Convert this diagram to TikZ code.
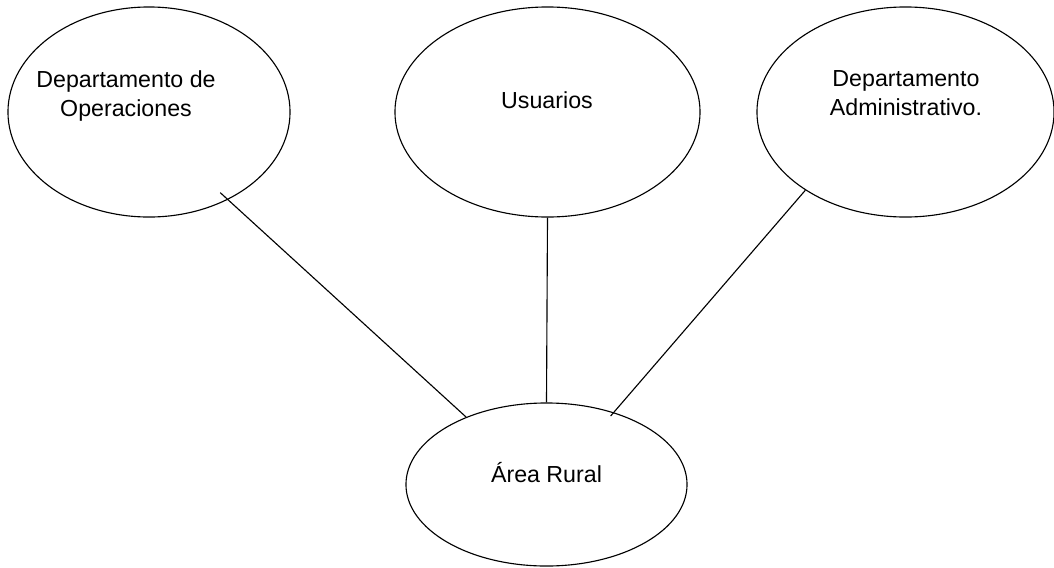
\documentclass[tikz,border=0pt]{standalone}
\usepackage{fontspec}
\setmainfont{Liberation Sans}
\usetikzlibrary{shapes.geometric}
\begin{document}
\begin{tikzpicture}[x=0.025cm,y=-0.025cm,
                    elipse/.style={draw,ellipse,line width=0.8pt,inner sep=0pt},
                    texto/.style={inner sep=0pt,align=center,font=\fontsize{16.5}{20.6}\selectfont},
                    enlace/.style={line width=0.8pt}]
                    \useasboundingbox (0,0) rectangle (1054,567);

                    \node [elipse,minimum width=7.05cm,minimum height=5.25cm]  (DO) at (149,112) {};
                    \node [elipse,minimum width=7.625cm,minimum height=5.25cm] (US) at (547.5,112) {};
                    \node [elipse,minimum width=7.425cm,minimum height=5.25cm] (DA) at (905.5,112) {};
                    \node [elipse,minimum width=7.025cm,minimum height=4.075cm] (AR) at (546.5,484.5) {};

                    \node [texto,anchor=north] (tDO) at (126,70) {Departamento de\\Operaciones};
                    \node [texto,anchor=base]  (tUS) at (547,108) {Usuarios};
                    \node [texto,anchor=north] (tDA) at (906,70) {Departamento\\Administrativo.};
                    \node [texto,anchor=base]  (tAR) at (546.5,482) {Área Rural};

                    \draw [enlace,shorten <=-0.26cm] (DO.-48.4) -- (AR.140.3);
                    \draw [enlace] (US.south) -- (AR.north);
                    \draw [enlace,shorten >=-0.12cm] (DA.218.3) -- (AR.47.2);
                \end{tikzpicture}
\end{document}
